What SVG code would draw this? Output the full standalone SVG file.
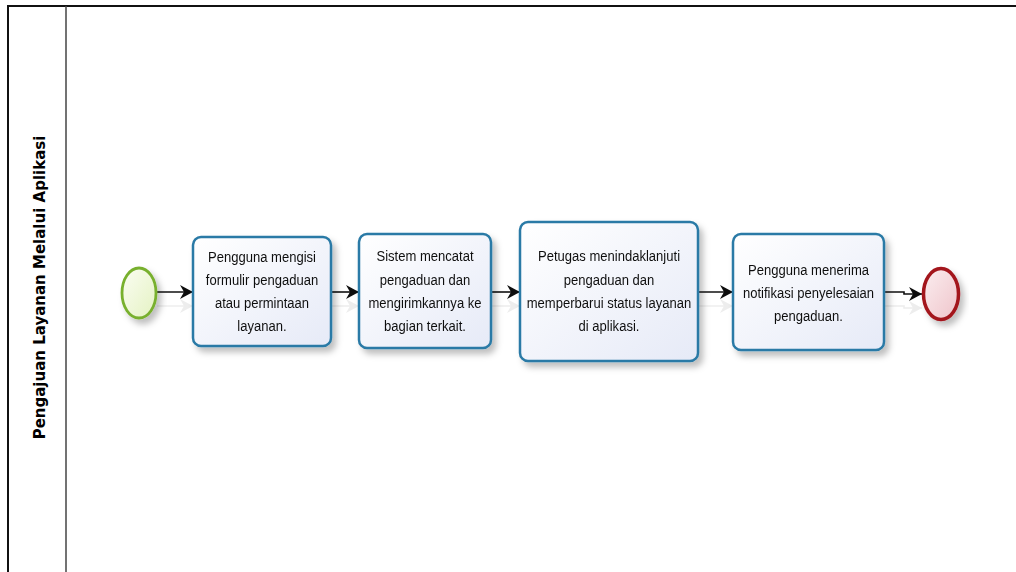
<svg xmlns="http://www.w3.org/2000/svg" width="1016" height="572" viewBox="0 0 1016 572">
  <defs>
    <style>
      .task rect { fill: url(#taskFill); stroke: #2a7aa6; stroke-width: 2.5; }
      .task text { font-family: "Liberation Sans", Arial, sans-serif; font-size: 15px; fill: #111; text-anchor: middle; }
      .conn { fill: none; stroke: #111; stroke-width: 1.6; marker-end: url(#arrow); }
      .lane-title { font-family: "DejaVu Sans", Verdana, sans-serif; font-weight: bold; font-size: 15px; fill: #000; text-anchor: middle; }
    </style>
    <linearGradient id="taskFill" x1="0" y1="0" x2="1" y2="1">
      <stop offset="0" stop-color="#ffffff"/>
      <stop offset="1" stop-color="#e6eaf7"/>
    </linearGradient>
    <linearGradient id="startFill" x1="0" y1="0" x2="1" y2="1">
      <stop offset="0" stop-color="#fbfdf3"/>
      <stop offset="1" stop-color="#e4f2c2"/>
    </linearGradient>
    <linearGradient id="endFill" x1="0" y1="0" x2="1" y2="1">
      <stop offset="0" stop-color="#fbeef0"/>
      <stop offset="1" stop-color="#efc4ca"/>
    </linearGradient>
    <filter id="shadow" x="-20%" y="-20%" width="150%" height="150%">
      <feDropShadow dx="4" dy="5" stdDeviation="3" flood-color="#000" flood-opacity="0.25"/>
    </filter>
    <filter id="lineShadow" filterUnits="userSpaceOnUse" x="140" y="270" width="800" height="60">
      <feDropShadow dx="0" dy="14" stdDeviation="0.6" flood-color="#000" flood-opacity="0.07"/>
    </filter>
    <marker id="arrow" markerUnits="userSpaceOnUse" markerWidth="16" markerHeight="16" viewBox="0 0 16 16" refX="13" refY="8" orient="auto" overflow="visible">
      <path d="M0,1 L13,8 L0,15 L4,8 Z" fill="#111"/>
    </marker>
  </defs>

  <rect width="1016" height="572" fill="#ffffff"/>

  <g id="pool">
    <rect x="8" y="6" width="1030" height="590" fill="none" stroke="#111" stroke-width="2"/>
    <line x1="66" y1="6" x2="66" y2="580" stroke="#444" stroke-width="1.5"/>
    <text class="lane-title" transform="translate(45,287.5) rotate(-90)">Pengajuan Layanan Melalui Aplikasi</text>
  </g>

  <g id="connectors" filter="url(#lineShadow)">
    <path class="conn" d="M157,292 L193,292"/>
    <path class="conn" d="M331,292 L359,292"/>
    <path class="conn" d="M491,292 L520,292"/>
    <path class="conn" d="M698,292 L733,292"/>
    <path class="conn" d="M884,292 L904,292 L904,294 L922,294"/>
  </g>

  <g id="start" filter="url(#shadow)">
    <ellipse cx="139" cy="293" rx="17" ry="25" fill="url(#startFill)" stroke="#78b02e" stroke-width="2.8"/>
  </g>

  <g id="task1" class="task" filter="url(#shadow)">
    <rect x="193" y="237" width="138" height="109" rx="8"/>
    <g transform="translate(262 0) scale(0.87 1)">
      <text x="0" y="262">Pengguna mengisi</text>
      <text x="0" y="285">formulir pengaduan</text>
      <text x="0" y="308">atau permintaan</text>
      <text x="0" y="331">layanan.</text>
    </g>
  </g>

  <g id="task2" class="task" filter="url(#shadow)">
    <rect x="359" y="234" width="132" height="114" rx="8"/>
    <g transform="translate(425 0) scale(0.87 1)">
      <text x="0" y="261">Sistem mencatat</text>
      <text x="0" y="285">pengaduan dan</text>
      <text x="0" y="308">mengirimkannya ke</text>
      <text x="0" y="331">bagian terkait.</text>
    </g>
  </g>

  <g id="task3" class="task" filter="url(#shadow)">
    <rect x="520" y="222" width="178" height="139" rx="8"/>
    <g transform="translate(609 0) scale(0.87 1)">
      <text x="0" y="261">Petugas menindaklanjuti</text>
      <text x="0" y="285">pengaduan dan</text>
      <text x="0" y="308">memperbarui status layanan</text>
      <text x="0" y="331">di aplikasi.</text>
    </g>
  </g>

  <g id="task4" class="task" filter="url(#shadow)">
    <rect x="733" y="234" width="151" height="116" rx="8"/>
    <g transform="translate(808.5 0) scale(0.87 1)">
      <text x="0" y="275">Pengguna menerima</text>
      <text x="0" y="298">notifikasi penyelesaian</text>
      <text x="0" y="321">pengaduan.</text>
    </g>
  </g>

  <g id="end" filter="url(#shadow)">
    <ellipse cx="941" cy="294" rx="17.5" ry="25.5" fill="url(#endFill)" stroke="#a3141c" stroke-width="3.5"/>
  </g>
</svg>
